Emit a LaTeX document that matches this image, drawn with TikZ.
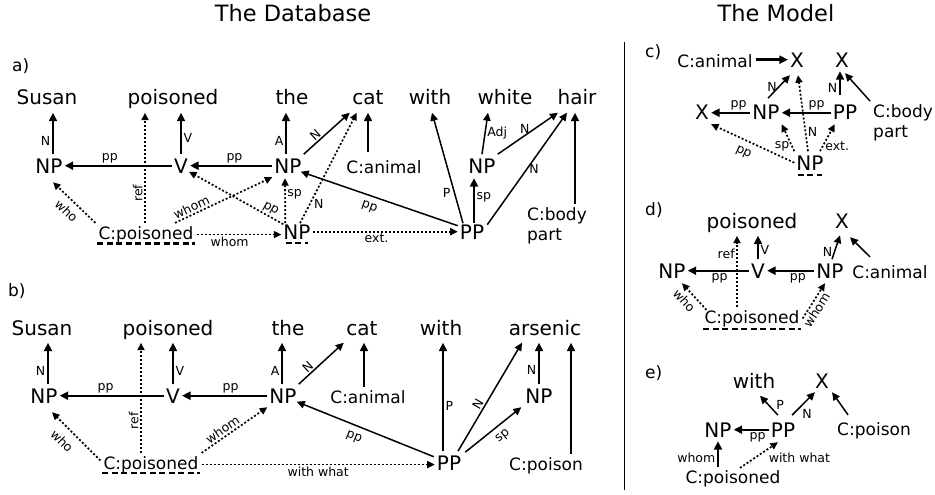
\documentclass[tikz,border=0pt]{standalone}
\usepackage{fontspec}
\setmainfont{DejaVu Sans}
\usetikzlibrary{arrows.meta,calc}
\begin{document}
\begin{tikzpicture}[x=1pt,y=-1pt,
  wd/.style={font=\fontsize{20}{24}\selectfont, anchor=base, inner xsep=2.5pt, inner ysep=2.5pt, text height=15pt, text depth=5pt},
  ph/.style={font=\fontsize{20}{24}\selectfont, anchor=base, inner xsep=2pt, inner ysep=4pt, text height=14.6pt, text depth=0pt},
  cl/.style={font=\fontsize{17}{20}\selectfont, anchor=base, inner sep=3pt, text height=12.9pt, text depth=4pt},
  cbp/.style={font=\fontsize{17}{20.5}\selectfont, align=left, anchor=north west, inner sep=3pt},
  lab/.style={font=\fontsize{12.5}{14}\selectfont, inner sep=1.5pt},
  pl/.style={font=\fontsize{17}{20}\selectfont, anchor=base west, inner sep=0pt},
  ttl/.style={font=\fontsize{22.5}{26}\selectfont, anchor=base, inner sep=0pt},
  arr/.style={-{Triangle[length=8.5pt,width=8pt]}, line width=2.4pt},
  darr/.style={-{Triangle[length=8pt,width=7.5pt]}, line width=1.5pt},
  dot/.style={-{Triangle[length=7.5pt,width=7pt]}, line width=1.7pt, dash pattern=on 2pt off 2pt},
  uline/.style={line width=2.8pt, dash pattern=on 6pt off 3.5pt},
]
\useasboundingbox (0,0) rectangle (935,495);

% titles and separator
\node[ttl] (t1) at (293,22) {The Database};
\node[ttl] (t2) at (776,22) {The Model};
\draw[line width=1pt] (624,42) -- (624,490);

% ---------------- panel a
\node[pl] (la) at (12,71) {a)};
\node[wd] (susa) at (47,105) {Susan};
\node[wd] (poia) at (173,105) {poisoned};
\node[wd] (thea) at (292,105) {the};
\node[wd] (cata) at (368,105) {cat};
\node[wd] (witha) at (430,105) {with};
\node[wd] (whia) at (505,105) {white};
\node[wd] (haia) at (577,105) {hair};
\node[ph] (np1a) at (49,173) {NP};
\node[ph] (va) at (181,173) {V};
\node[ph] (np2a) at (288,173) {NP};
\node[cl] (cana) at (384,173) {C:animal};
\node[ph] (npwa) at (482,173) {NP};
\node[cl] (cpa) at (146,239) {C:poisoned};
\node[ph] (npba) at (297,239) {NP};
\node[ph] (ppa) at (472,239) {PP};
\node[cbp] (cbda) at (524,204) {C:body\\part};

\coordinate (a1) at ($(np1a.north)+(4,0)$);
\draw[arr] (a1) -- (a1 |- susa.south) node[lab,left,pos=.32] {N};
\draw[arr] (va.west) -- (np1a.east) node[lab,above,pos=.58] {pp};
\coordinate (a2) at ($(cpa.north)+(-1,0)$);
\draw[dot] (a2) -- (a2 |- poia.south) node[lab,rotate=90,anchor=south,pos=.27] {ref};
\draw[arr] (va.north) -- (va.north |- poia.south) node[lab,right,pos=.38] {V};
\draw[arr] (np2a.west) -- (va.east) node[lab,above,pos=.46] {pp};
\coordinate (a3) at ($(np2a.north)+(-2,0)$);
\draw[arr] (a3) -- (a3 |- thea.south) node[lab,left,pos=.32] {A};
\draw[darr] (np2a.north east) -- (cata.south west) node[lab,sloped,above,pos=.35] {N};
\coordinate (a4) at (cata.south |- cana.north);
\draw[arr] ($(a4)+(0,-5)$) -- (cata.south);
\draw[dot] (cpa.north west) -- ($(np1a.south)+(4,5)$) node[lab,sloped,below=4pt,pos=.5] {who};
\draw[dot] ($(cpa.north)+(29,0)$) -- (np2a.south west) node[lab,sloped,above,pos=.2] {whom};
\draw[dot] ($(npba.north west)+(2,4)$) -- ($(va.east)+(-1,6)$) node[lab,sloped,above,pos=.17] {pp};
\draw[dot] ($(npba.north west)+(4,3)$) -- ($(np2a.south)+(-3,1)$) node[lab,right,pos=.65] {sp};
\draw[dot] ($(npba.north)+(3,3)$) -- ($(cata.south west)+(7,0)$) node[lab,right=2pt,pos=.17] {N};
\draw[dot] (cpa.east) -- (cpa.east -| npba.west) node[lab,below,pos=.39] {whom};
\draw[dot] (npba.east) -- (ppa.west) node[lab,below,pos=.44] {ext.};
\draw[darr] ($(ppa.west)+(0,-6)$) -- ($(np2a.east)+(-3,6)$) node[lab,sloped,below=4pt,pos=.54] {pp};
\draw[darr] ($(ppa.north)+(-9,3)$) -- ($(witha.south)+(2,0)$) node[lab,left=2pt,pos=.27] {P};
\draw[arr] ($(ppa.north)+(2,3)$) -- ($(npwa.south)+(-8,1)$) node[lab,right,pos=.57] {sp};
\draw[darr] (npwa.north) -- ($(whia.south)+(-17,0)$) node[lab,right,pos=.5] {Adj};
\draw[darr] (npwa.north east) -- ($(haia.south west)+(3,0)$) node[lab,above,pos=.45] {N};
\draw[darr] ($(ppa.east)+(1,-7)$) -- ($(haia.south)+(-10,0)$) node[lab,right,pos=.5] {N};
\coordinate (a5) at ($(haia.south)+(-2,0)$);
\draw[arr] (a5 |- cbda.north) -- (a5);
\draw[uline] ($(cpa.base west)+(2,4.5)$) -- ($(cpa.base east)+(-2,4.5)$);
\draw[uline] ($(npba.base west)+(4.5,4)$) -- ($(npba.base east)+(-4.5,4)$);

% ---------------- panel b
\node[pl] (lb) at (8,296) {b)};
\node[wd] (susb) at (42,335) {Susan};
\node[wd] (poib) at (168,335) {poisoned};
\node[wd] (theb) at (288,335) {the};
\node[wd] (catb) at (362,335) {cat};
\node[wd] (withb) at (441,335) {with};
\node[wd] (arsb) at (545,335) {arsenic};
\node[ph] (np1b) at (44,403) {NP};
\node[ph] (vb) at (173,403) {V};
\node[ph] (np2b) at (283,403) {NP};
\node[cl] (canb) at (368,403) {C:animal};
\node[ph] (nprb) at (539,403) {NP};
\node[cl] (cpb) at (151,469) {C:poisoned};
\node[ph] (ppb) at (449,470) {PP};
\node[cl] (cpsb) at (546,470) {C:poison};

\coordinate (b1) at ($(np1b.north)+(4,0)$);
\draw[arr] (b1) -- (b1 |- susb.south) node[lab,left,pos=.33] {N};
\draw[arr] (vb.west) -- (np1b.east) node[lab,above,pos=.56] {pp};
\coordinate (b2) at ($(cpb.north)+(-10,0)$);
\draw[dot] (b2) -- (b2 |- poib.south) node[lab,rotate=90,anchor=south,pos=.29] {ref};
\draw[arr] (vb.north) -- (vb.north |- poib.south) node[lab,right,pos=.33] {V};
\draw[arr] (np2b.west) -- (vb.east) node[lab,above,pos=.43] {pp};
\coordinate (b3) at ($(np2b.north)+(-1,0)$);
\draw[arr] (b3) -- (b3 |- theb.south) node[lab,left,pos=.33] {A};
\draw[darr] (np2b.north east) -- (catb.south west) node[lab,sloped,above,pos=.3] {N};
\coordinate (b4) at ($(catb.south)+(2,0)$);
\draw[arr] (b4 |- canb.north) -- (b4);
\draw[dot] ($(cpb.west)+(0,-4)$) -- ($(np1b.south)+(8,5)$) node[lab,sloped,below=6pt,pos=.6] {who};
\draw[dot] (cpb.north east) -- (np2b.south west) node[lab,sloped,above,pos=.38] {whom};
\draw[dot] (cpb.east) -- (cpb.east -| ppb.west) node[lab,below,pos=.5] {with what};
\draw[darr] ($(ppb.west)+(-1,-6)$) -- ($(np2b.east)+(-2,6)$) node[lab,sloped,below=5pt,pos=.55] {pp};
\coordinate (b5) at ($(ppb.north)+(-6,0)$);
\draw[arr] (b5) -- (b5 |- withb.south) node[lab,right,pos=.42] {P};
\draw[darr] ($(ppb.north)+(9,0)$) -- ($(arsb.south)+(-23,0)$) node[lab,sloped,above,pos=.4] {N};
\draw[arr] (nprb.north) -- (nprb.north |- arsb.south) node[lab,left,pos=.35] {N};
\draw[darr] ($(ppb.north east)+(2,1)$) -- ($(nprb.south west)+(-2,0)$) node[lab,sloped,below=4pt,pos=.55] {sp};
\coordinate (b6) at ($(arsb.south)+(26,0)$);
\draw[arr] (b6 |- cpsb.north) -- (b6);
\draw[uline] ($(cpb.base west)+(2,4)$) -- ($(cpb.base east)+(-2,4)$);

% ---------------- panel c
\node[pl] (lc) at (645,58) {c)};
\node[cl] (canc) at (715,67) {C:animal};
\node[ph] (x1c) at (797,67) {X};
\node[ph] (x2c) at (842,67) {X};
\node[ph] (xlc) at (702,120) {X};
\node[ph] (npc) at (766,120) {NP};
\node[ph] (ppc) at (845,120) {PP};
\node[cbp] (cbdc) at (870,101) {C:body\\part};
\node[ph] (npbc) at (810,170) {NP};

\draw[arr] (x1c.west -| canc.east) -- (x1c.west);
\draw[arr] (npc.west) -- (xlc.east) node[lab,above,pos=.3] {pp};
\draw[arr] (ppc.west) -- (npc.east) node[lab,above,pos=.29] {pp};
\draw[darr] ($(npc.north)+(2,-3)$) -- ($(x1c.south)+(-7,4)$) node[lab,left,pos=.5] {N};
\coordinate (c1) at ($(x2c.south)+(-2,0)$);
\draw[arr] ($(c1 |- ppc.north)+(0,-6)$) -- (c1) node[lab,left,pos=.3] {N};
\draw[darr] (cbdc.north west) -- ($(x2c.south)+(3,2)$);
\draw[dot] ($(npbc.north)+(-2,0)$) -- ($(x1c.south)+(1,4)$) node[lab,right,pos=.25] {N};
\draw[dot] (npbc.north west) -- (npc.south east) node[lab,left,pos=.2] {sp};
\draw[dot] ($(npbc.north)+(10,0)$) -- ($(ppc.south west)+(4,0)$) node[lab,right,pos=.2] {ext.};
\draw[dot] (npbc.west) -- (xlc.south east) node[lab,sloped,below=5pt,pos=.55] {pp};
\draw[uline] ($(npbc.base west)+(3.5,5)$) -- ($(npbc.base east)+(-3.5,5)$);

% ---------------- panel d
\node[pl] (ld) at (645,215) {d)};
\node[wd] (poid) at (752,228) {poisoned};
\node[ph] (xd) at (842,228) {X};
\node[ph] (np1d) at (672,278) {NP};
\node[ph] (vd) at (758,278) {V};
\node[ph] (np2d) at (830,278) {NP};
\node[cl] (cand) at (890,278) {C:animal};
\node[cl] (cpd) at (752,323) {C:poisoned};

\draw[arr] (vd.west) -- (np1d.east) node[lab,below,pos=.48] {pp};
\draw[arr] (np2d.west) -- (vd.east) node[lab,below,pos=.35] {pp};
\coordinate (d1) at ($(cpd.north)+(-15,0)$);
\draw[dot] (d1) -- (d1 |- poid.south) node[lab,left,pos=.75] {ref};
\draw[arr] (vd.north) -- (vd.north |- poid.south) node[lab,right,pos=.4] {V};
\draw[darr] ($(np2d.north)+(2,0)$) -- ($(xd.south)+(-2,3)$) node[lab,left,pos=.3] {N};
\draw[darr] ($(cand.north)+(-20,-5)$) -- ($(xd.south east)+(-1,5)$);
\draw[dot] ($(cpd.north west)+(5,3)$) -- ($(np1d.south)+(10,1)$) node[lab,sloped,below=3pt,pos=.6] {who};
\draw[dot] (cpd.east) -- ($(np2d.south)+(-5,1)$) node[lab,sloped,below,pos=.35] {whom};
\draw[uline] ($(cpd.base west)+(2,6)$) -- ($(cpd.base east)+(-2,6)$);

% ---------------- panel e
\node[pl] (le) at (645,378) {e)};
\node[wd] (withe) at (754,388) {with};
\node[ph] (xe) at (822,388) {X};
\node[ph] (npe) at (718,437) {NP};
\node[ph] (ppe) at (783,437) {PP};
\node[cl] (cpse) at (874,435) {C:poison};
\node[cl] (cpe) at (733,483) {C:poisoned};

\draw[darr] ($(ppe.north)+(-5,-3)$) -- ($(withe.south)+(6,0)$) node[lab,right=6pt,pos=.55] {P};
\draw[darr] ($(ppe.north)+(9,-3)$) -- ($(xe.south west)+(2,0)$) node[lab,below right,pos=.35] {N};
\draw[darr] ($(cpse.north west)+(14,-4)$) -- ($(xe.south east)+(1,0)$);
\draw[arr] (ppe.west) -- (npe.east) node[lab,below,pos=.32] {pp};
\draw[arr] (npe.south |- cpe.north) -- (npe.south) node[lab,left,pos=.35] {whom};
\draw[dot] ($(cpe.north)+(7,1)$) -- ($(ppe.south)+(-5,1)$) node[lab,right=12pt,pos=.38] {with what};
\end{tikzpicture}
\end{document}
